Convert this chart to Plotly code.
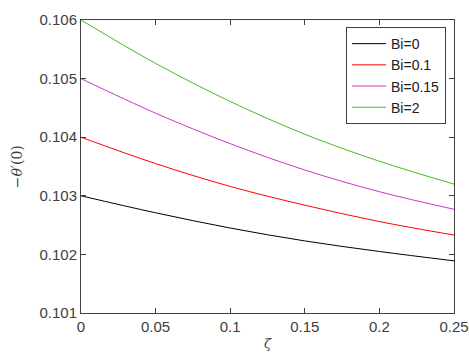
import plotly.graph_objects as go

zeta = [0, 0.05, 0.1, 0.15, 0.2, 0.25]
bi0 = [0.10300, 0.10271, 0.10245, 0.10223, 0.10205, 0.10189]
bi01 = [0.10400, 0.10355, 0.10316, 0.10284, 0.10256, 0.10233]
bi015 = [0.10500, 0.10441, 0.10389, 0.10344, 0.10307, 0.10277]
bi2 = [0.10600, 0.10526, 0.10461, 0.10405, 0.10359, 0.10320]
names = ["Bi=0", "Bi=0.1", "Bi=0.15", "Bi=2"]
colors = ["#000000", "#ff0000", "#cc33cc", "#44bb22"]
xticks = [0, 0.05, 0.1, 0.15, 0.2, 0.25]
yticks = [0.101, 0.102, 0.103, 0.104, 0.105, 0.106]

fig = go.Figure()
for ys, nm, c in zip([bi0, bi01, bi015, bi2], names, colors):
    fig.add_trace(go.Scatter(x=zeta, y=ys, mode="lines", name=nm,
                             line=dict(color=c, width=1, shape="spline", smoothing=1.0)))

axis_common = dict(showline=True, linecolor="#404040", linewidth=1, mirror="ticks",
                   ticks="inside", ticklen=5, tickcolor="#404040", showgrid=False,
                   zeroline=False, automargin=False,
                   tickfont=dict(family="Liberation Sans, Arial", size=15, color="#404040"))
fig.update_layout(
    width=469, height=354,
    margin=dict(l=81, r=15, t=20, b=41),
    paper_bgcolor="white", plot_bgcolor="white",
    showlegend=True,
    legend=dict(x=0.9786, y=0.976, xanchor="right", yanchor="top",
                bgcolor="white", bordercolor="#404040", borderwidth=1,
                font=dict(family="Liberation Sans, Arial", size=14, color="#202020"),
                tracegroupgap=0, itemwidth=34),
    xaxis=dict(range=[0, 0.25], tickvals=xticks, ticktext=["0", "0.05", "0.1", "0.15", "0.2", "0.25"],
               **axis_common),
    yaxis=dict(range=[0.101, 0.106], tickvals=yticks, ticktext=[f"{v:.3f}" for v in yticks],
               **axis_common),
    annotations=[
        dict(text="<i>ζ</i>", xref="paper", yref="paper", x=0.5, y=-0.105, xanchor="center", yanchor="middle",
             showarrow=False, font=dict(family="DejaVu Serif, serif", size=13, color="#404040")),
        dict(text="−<i>θ′</i>(0)", xref="paper", yref="paper", x=-0.172, y=0.5, xanchor="center", yanchor="middle",
             textangle=-90, showarrow=False, font=dict(family="DejaVu Serif, serif", size=14, color="#404040")),
    ],
)
fig.write_html("out.html", config={"displayModeBar": False},
               post_script="document.body.style.margin='0';document.body.style.overflow='hidden';")
